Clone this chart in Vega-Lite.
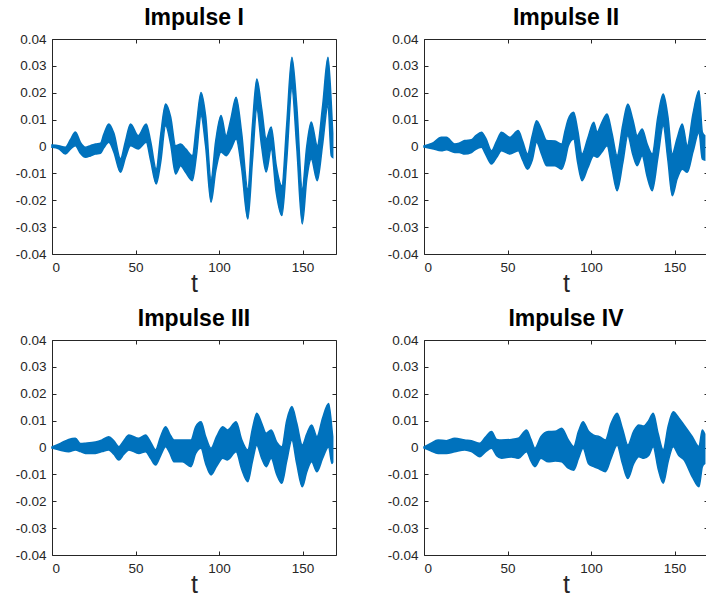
{
  "$schema": "https://vega.github.io/schema/vega-lite/v6.json",
  "padding": {"left": 15, "top": 7, "right": 0, "bottom": 0},
  "background": "white",
  "config": {
    "view": {"stroke": null},
    "font": "Liberation Sans",
    "title": {"font": "Liberation Sans", "fontSize": 23, "fontWeight": "bold", "color": "#000000", "offset": 2},
    "axis": {"grid": false, "domainColor": "#262626", "tickColor": "#262626", "labelColor": "#262626", "labelFont": "Liberation Sans", "labelFontSize": 13.5, "tickSize": -4, "labelPadding": 10, "domainWidth": 1, "tickWidth": 1, "titleFont": "Liberation Sans", "titleFontSize": 25, "titleFontWeight": "normal", "titleColor": "#262626", "titlePadding": -2}
  },
  "datasets": {
    "p1": [
      {"t": 0, "lo": -0.0003, "hi": 0.0005}, {"t": 4, "lo": -0.0008, "hi": 0.0003}, {"t": 8, "lo": -0.0028, "hi": -0.0003},
      {"t": 11, "lo": -0.001, "hi": 0.0025}, {"t": 14, "lo": 0.0003, "hi": 0.0054}, {"t": 17, "lo": -0.0025, "hi": 0.0015},
      {"t": 20, "lo": -0.004, "hi": -0.0003}, {"t": 23, "lo": -0.0035, "hi": 0.0003}, {"t": 26, "lo": -0.0028, "hi": 0.0009},
      {"t": 29, "lo": -0.0025, "hi": 0.0012}, {"t": 31, "lo": -0.0005, "hi": 0.0045}, {"t": 34, "lo": 0.0016, "hi": 0.0084},
      {"t": 37, "lo": -0.002, "hi": 0.005}, {"t": 41, "lo": -0.0096, "hi": -0.0046}, {"t": 44, "lo": -0.004, "hi": 0.002},
      {"t": 47, "lo": 0.0003, "hi": 0.0084}, {"t": 51.6, "lo": -0.0009, "hi": 0.004}, {"t": 56.4, "lo": 0.0016, "hi": 0.0084},
      {"t": 59, "lo": -0.005, "hi": 0.002}, {"t": 62.4, "lo": -0.0139, "hi": -0.0084}, {"t": 65, "lo": -0.006, "hi": 0.004},
      {"t": 68, "lo": 0.0077, "hi": 0.0158}, {"t": 71, "lo": 0.001, "hi": 0.011}, {"t": 74, "lo": -0.0102, "hi": 0.0003},
      {"t": 77, "lo": -0.0071, "hi": 0.0009}, {"t": 80, "lo": -0.0096, "hi": -0.0009}, {"t": 84, "lo": -0.0127, "hi": -0.0034},
      {"t": 86.5, "lo": -0.003, "hi": 0.008}, {"t": 89.2, "lo": 0.0115, "hi": 0.0201}, {"t": 92, "lo": 0.0, "hi": 0.011},
      {"t": 95.2, "lo": -0.0207, "hi": -0.0121}, {"t": 98, "lo": -0.009, "hi": 0.002}, {"t": 101.2, "lo": -0.002, "hi": 0.0115},
      {"t": 104.2, "lo": -0.0034, "hi": 0.004}, {"t": 107, "lo": -0.001, "hi": 0.01}, {"t": 110.2, "lo": 0.0028, "hi": 0.0183},
      {"t": 113.5, "lo": -0.008, "hi": 0.005}, {"t": 117.2, "lo": -0.027, "hi": -0.0158}, {"t": 120, "lo": -0.005, "hi": 0.008},
      {"t": 122.6, "lo": 0.0139, "hi": 0.0251}, {"t": 125.5, "lo": 0.0, "hi": 0.014}, {"t": 128.2, "lo": -0.0095, "hi": 0.0028},
      {"t": 131.2, "lo": -0.0009, "hi": 0.0072}, {"t": 134.2, "lo": -0.017, "hi": -0.0071}, {"t": 137.6, "lo": -0.0257, "hi": -0.0146},
      {"t": 140.5, "lo": -0.005, "hi": 0.008}, {"t": 143.6, "lo": 0.0214, "hi": 0.0332}, {"t": 146.5, "lo": 0.0, "hi": 0.015},
      {"t": 149.8, "lo": -0.0288, "hi": -0.0158}, {"t": 152.5, "lo": -0.012, "hi": 0.0}, {"t": 155.2, "lo": -0.0046, "hi": 0.0091},
      {"t": 158.8, "lo": -0.0127, "hi": 0.0003}, {"t": 162, "lo": 0.001, "hi": 0.015}, {"t": 165.2, "lo": 0.0154, "hi": 0.0332},
      {"t": 167.2, "lo": -0.0034, "hi": 0.0154}, {"t": 168, "lo": -0.004, "hi": 0.005}
    ],
    "p2": [
      {"t": 0, "lo": -0.0002, "hi": 0.0002}, {"t": 5, "lo": -0.0008, "hi": 0.0012}, {"t": 10.4, "lo": -0.0016, "hi": 0.0034},
      {"t": 13.4, "lo": -0.0012, "hi": 0.0034}, {"t": 18.4, "lo": -0.0022, "hi": 0.0009}, {"t": 21, "lo": -0.0022, "hi": 0.0012},
      {"t": 24.4, "lo": -0.0028, "hi": 0.0022}, {"t": 28.4, "lo": -0.0022, "hi": 0.0025}, {"t": 31, "lo": -0.001, "hi": 0.004},
      {"t": 34.4, "lo": -0.0003, "hi": 0.0053}, {"t": 37, "lo": -0.003, "hi": 0.003}, {"t": 40.4, "lo": -0.0065, "hi": -0.0016},
      {"t": 43.5, "lo": -0.004, "hi": 0.002}, {"t": 46.4, "lo": -0.0016, "hi": 0.0053}, {"t": 51.4, "lo": -0.0028, "hi": 0.0034},
      {"t": 56.4, "lo": -0.0016, "hi": 0.0059}, {"t": 59, "lo": -0.005, "hi": 0.002}, {"t": 62, "lo": -0.0084, "hi": -0.0028},
      {"t": 64.8, "lo": -0.005, "hi": 0.004}, {"t": 67.4, "lo": 0.0016, "hi": 0.0096}, {"t": 70.5, "lo": -0.003, "hi": 0.006},
      {"t": 73.4, "lo": -0.0071, "hi": 0.0022}, {"t": 78.4, "lo": -0.0071, "hi": 0.002}, {"t": 82.4, "lo": -0.0084, "hi": 0.0009},
      {"t": 84.5, "lo": -0.005, "hi": 0.006}, {"t": 86.4, "lo": 0.0003, "hi": 0.0102}, {"t": 89.6, "lo": 0.0028, "hi": 0.0127},
      {"t": 92, "lo": -0.006, "hi": 0.006}, {"t": 94.6, "lo": -0.0127, "hi": -0.0028}, {"t": 98, "lo": -0.008, "hi": 0.003},
      {"t": 101.6, "lo": -0.0034, "hi": 0.009}, {"t": 103.6, "lo": -0.004, "hi": 0.0053}, {"t": 106.5, "lo": -0.002, "hi": 0.009},
      {"t": 109.6, "lo": 0.0003, "hi": 0.0121}, {"t": 112.5, "lo": -0.008, "hi": 0.005}, {"t": 115.6, "lo": -0.0164, "hi": -0.0034},
      {"t": 119, "lo": -0.006, "hi": 0.008}, {"t": 122, "lo": 0.004, "hi": 0.0158}, {"t": 125, "lo": -0.003, "hi": 0.01},
      {"t": 127.6, "lo": -0.0071, "hi": 0.004}, {"t": 130.6, "lo": -0.0034, "hi": 0.0065}, {"t": 133.5, "lo": -0.011, "hi": 0.001},
      {"t": 136.6, "lo": -0.0164, "hi": -0.0028}, {"t": 140, "lo": -0.004, "hi": 0.011}, {"t": 143.2, "lo": 0.0077, "hi": 0.0195},
      {"t": 146, "lo": -0.005, "hi": 0.011}, {"t": 148.6, "lo": -0.0183, "hi": -0.0028}, {"t": 151.5, "lo": -0.012, "hi": 0.003},
      {"t": 154.6, "lo": -0.0084, "hi": 0.0084}, {"t": 157.6, "lo": -0.0096, "hi": 0.0003}, {"t": 161, "lo": -0.002, "hi": 0.012},
      {"t": 164.6, "lo": 0.0053, "hi": 0.0207}, {"t": 166.6, "lo": -0.0046, "hi": 0.0053}, {"t": 168, "lo": -0.005, "hi": 0.004}
    ],
    "p3": [
      {"t": 0, "lo": -0.0002, "hi": 0.0002}, {"t": 5, "lo": -0.001, "hi": 0.0015}, {"t": 10, "lo": -0.0016, "hi": 0.003},
      {"t": 14, "lo": -0.0009, "hi": 0.0034}, {"t": 17, "lo": -0.0015, "hi": 0.0015}, {"t": 20, "lo": -0.0022, "hi": 0.0016},
      {"t": 26, "lo": -0.0022, "hi": 0.002}, {"t": 30, "lo": -0.0015, "hi": 0.0028}, {"t": 34, "lo": -0.0009, "hi": 0.004},
      {"t": 37, "lo": -0.0025, "hi": 0.0025}, {"t": 40, "lo": -0.0046, "hi": 0.0003}, {"t": 43, "lo": -0.0025, "hi": 0.0025},
      {"t": 46, "lo": -0.0009, "hi": 0.0046}, {"t": 52, "lo": -0.0022, "hi": 0.0034}, {"t": 56, "lo": -0.0016, "hi": 0.0046},
      {"t": 59, "lo": -0.004, "hi": 0.002}, {"t": 62, "lo": -0.0065, "hi": -0.0009}, {"t": 65, "lo": -0.003, "hi": 0.004},
      {"t": 68, "lo": 0.0003, "hi": 0.0077}, {"t": 70.5, "lo": -0.002, "hi": 0.005}, {"t": 73, "lo": -0.0053, "hi": 0.0028},
      {"t": 78, "lo": -0.0053, "hi": 0.0028}, {"t": 83.2, "lo": -0.0071, "hi": 0.0028}, {"t": 86, "lo": -0.0022, "hi": 0.0077},
      {"t": 89.2, "lo": -0.0003, "hi": 0.0096}, {"t": 92, "lo": -0.006, "hi": 0.004}, {"t": 95.2, "lo": -0.0102, "hi": -0.0003},
      {"t": 98.5, "lo": -0.007, "hi": 0.004}, {"t": 102.2, "lo": -0.004, "hi": 0.0077}, {"t": 105, "lo": -0.0046, "hi": 0.0065},
      {"t": 110.2, "lo": -0.0016, "hi": 0.0096}, {"t": 113.5, "lo": -0.008, "hi": 0.003}, {"t": 117.2, "lo": -0.0127, "hi": -0.0009},
      {"t": 120, "lo": -0.005, "hi": 0.007}, {"t": 122.6, "lo": 0.0009, "hi": 0.0127}, {"t": 125.5, "lo": -0.004, "hi": 0.009},
      {"t": 128.2, "lo": -0.0071, "hi": 0.0053}, {"t": 131.2, "lo": -0.004, "hi": 0.0065}, {"t": 134.5, "lo": -0.01, "hi": 0.002},
      {"t": 137.6, "lo": -0.0133, "hi": 0.0003}, {"t": 140.5, "lo": -0.005, "hi": 0.01}, {"t": 143.6, "lo": 0.0028, "hi": 0.0152},
      {"t": 146.5, "lo": -0.006, "hi": 0.009}, {"t": 149.8, "lo": -0.0146, "hi": 0.0009}, {"t": 152.5, "lo": -0.009, "hi": 0.005},
      {"t": 155.4, "lo": -0.0053, "hi": 0.0084}, {"t": 158.6, "lo": -0.009, "hi": 0.004}, {"t": 162, "lo": -0.004, "hi": 0.011},
      {"t": 165.6, "lo": 0.0003, "hi": 0.0164}, {"t": 167.6, "lo": -0.0059, "hi": 0.0065}, {"t": 168, "lo": -0.0055, "hi": 0.004}
    ],
    "p4": [
      {"t": 0, "lo": -0.0002, "hi": 0.0002}, {"t": 4, "lo": -0.0012, "hi": 0.0015}, {"t": 8.4, "lo": -0.0022, "hi": 0.0028},
      {"t": 13.4, "lo": -0.0022, "hi": 0.0025}, {"t": 18.4, "lo": -0.0016, "hi": 0.0034}, {"t": 24.4, "lo": -0.0009, "hi": 0.0028},
      {"t": 28.4, "lo": -0.0015, "hi": 0.0025}, {"t": 33.4, "lo": -0.0034, "hi": 0.0016}, {"t": 37, "lo": -0.0015, "hi": 0.004},
      {"t": 40.4, "lo": -0.0003, "hi": 0.0059}, {"t": 43.5, "lo": -0.003, "hi": 0.003}, {"t": 46.4, "lo": -0.004, "hi": 0.0028},
      {"t": 52.4, "lo": -0.0035, "hi": 0.003}, {"t": 56.4, "lo": -0.004, "hi": 0.0034}, {"t": 61.4, "lo": -0.0016, "hi": 0.0065},
      {"t": 64, "lo": -0.005, "hi": 0.003}, {"t": 66.4, "lo": -0.0071, "hi": -0.0003}, {"t": 70, "lo": -0.004, "hi": 0.004},
      {"t": 74.4, "lo": -0.0053, "hi": 0.0059}, {"t": 78.5, "lo": -0.005, "hi": 0.006}, {"t": 82.4, "lo": -0.0053, "hi": 0.0071},
      {"t": 86.4, "lo": -0.0077, "hi": 0.0028}, {"t": 89.6, "lo": -0.0084, "hi": 0.0003}, {"t": 92.5, "lo": -0.004, "hi": 0.006},
      {"t": 95.2, "lo": -0.0003, "hi": 0.0096}, {"t": 98.5, "lo": -0.006, "hi": 0.006}, {"t": 101.6, "lo": -0.0071, "hi": 0.0046},
      {"t": 105, "lo": -0.008, "hi": 0.004}, {"t": 108.6, "lo": -0.009, "hi": 0.0028}, {"t": 112, "lo": -0.004, "hi": 0.009},
      {"t": 115.6, "lo": 0.0009, "hi": 0.0127}, {"t": 118.8, "lo": -0.006, "hi": 0.007}, {"t": 122, "lo": -0.0115, "hi": 0.0009},
      {"t": 125.5, "lo": -0.006, "hi": 0.006}, {"t": 128.6, "lo": -0.0034, "hi": 0.0084}, {"t": 131.6, "lo": -0.004, "hi": 0.008},
      {"t": 134.5, "lo": -0.003, "hi": 0.01}, {"t": 137.2, "lo": 0.0003, "hi": 0.0127}, {"t": 140.2, "lo": -0.008, "hi": 0.005},
      {"t": 143.2, "lo": -0.0133, "hi": -0.0009}, {"t": 146.2, "lo": -0.005, "hi": 0.008}, {"t": 149.2, "lo": 0.0003, "hi": 0.0133},
      {"t": 152.5, "lo": -0.003, "hi": 0.011}, {"t": 155.6, "lo": -0.0046, "hi": 0.0084}, {"t": 160.6, "lo": -0.0109, "hi": 0.004},
      {"t": 164.6, "lo": -0.0146, "hi": 0.0003}, {"t": 166.6, "lo": -0.0071, "hi": 0.0065}, {"t": 168, "lo": -0.006, "hi": 0.005}
    ]
  },
  "spacing": 11,
  "vconcat": [
    {
      "spacing": 50,
      "hconcat": [
        {
          "title": "Impulse I", "width": 284, "height": 215,
          "resolve": {"axis": {"x": "independent", "y": "independent"}},
          "layer": [
            {"data": {"name": "p1"}, "mark": {"type": "area", "interpolate": "monotone", "color": "#0072BD", "stroke": "#0072BD", "strokeWidth": 1.6},
             "encoding": {
               "x": {"field": "t", "type": "quantitative", "scale": {"domain": [0, 170], "nice": false, "zero": false}, "axis": {"orient": "bottom", "values": [0, 50, 100, 150], "title": "t"}},
               "y": {"field": "lo", "type": "quantitative", "scale": {"domain": [-0.04, 0.04], "nice": false}, "axis": {"orient": "left", "title": null, "values": [-0.04, -0.03, -0.02, -0.01, 0, 0.01, 0.02, 0.03, 0.04], "labelExpr": "abs(datum.value) < 1e-9 ? '0' : (datum.value < 0 ? '-' : '') + format(abs(datum.value), '.2f')"}},
               "y2": {"field": "hi"}}},
            {"data": {"name": "p1"}, "mark": {"type": "point", "opacity": 0},
             "encoding": {
               "x": {"field": "t", "type": "quantitative", "axis": {"orient": "top", "values": [0, 50, 100, 150], "labels": false, "title": null}},
               "y": {"field": "lo", "type": "quantitative", "axis": {"orient": "right", "labels": false, "title": null, "values": [-0.04, -0.03, -0.02, -0.01, 0, 0.01, 0.02, 0.03, 0.04]}}}}
          ]
        },
        {
          "title": "Impulse II", "width": 284, "height": 215,
          "resolve": {"axis": {"x": "independent", "y": "independent"}},
          "layer": [
            {"data": {"name": "p2"}, "mark": {"type": "area", "interpolate": "monotone", "color": "#0072BD", "stroke": "#0072BD", "strokeWidth": 1.6},
             "encoding": {
               "x": {"field": "t", "type": "quantitative", "scale": {"domain": [0, 170], "nice": false, "zero": false}, "axis": {"orient": "bottom", "values": [0, 50, 100, 150], "title": "t"}},
               "y": {"field": "lo", "type": "quantitative", "scale": {"domain": [-0.04, 0.04], "nice": false}, "axis": {"orient": "left", "title": null, "values": [-0.04, -0.03, -0.02, -0.01, 0, 0.01, 0.02, 0.03, 0.04], "labelExpr": "abs(datum.value) < 1e-9 ? '0' : (datum.value < 0 ? '-' : '') + format(abs(datum.value), '.2f')"}},
               "y2": {"field": "hi"}}},
            {"data": {"name": "p2"}, "mark": {"type": "point", "opacity": 0},
             "encoding": {
               "x": {"field": "t", "type": "quantitative", "axis": {"orient": "top", "values": [0, 50, 100, 150], "labels": false, "title": null}},
               "y": {"field": "lo", "type": "quantitative", "axis": {"orient": "right", "labels": false, "title": null, "values": [-0.04, -0.03, -0.02, -0.01, 0, 0.01, 0.02, 0.03, 0.04]}}}}
          ]
        }
      ]
    },
    {
      "spacing": 50,
      "hconcat": [
        {
          "title": "Impulse III", "width": 284, "height": 215,
          "resolve": {"axis": {"x": "independent", "y": "independent"}},
          "layer": [
            {"data": {"name": "p3"}, "mark": {"type": "area", "interpolate": "monotone", "color": "#0072BD", "stroke": "#0072BD", "strokeWidth": 1.6},
             "encoding": {
               "x": {"field": "t", "type": "quantitative", "scale": {"domain": [0, 170], "nice": false, "zero": false}, "axis": {"orient": "bottom", "values": [0, 50, 100, 150], "title": "t"}},
               "y": {"field": "lo", "type": "quantitative", "scale": {"domain": [-0.04, 0.04], "nice": false}, "axis": {"orient": "left", "title": null, "values": [-0.04, -0.03, -0.02, -0.01, 0, 0.01, 0.02, 0.03, 0.04], "labelExpr": "abs(datum.value) < 1e-9 ? '0' : (datum.value < 0 ? '-' : '') + format(abs(datum.value), '.2f')"}},
               "y2": {"field": "hi"}}},
            {"data": {"name": "p3"}, "mark": {"type": "point", "opacity": 0},
             "encoding": {
               "x": {"field": "t", "type": "quantitative", "axis": {"orient": "top", "values": [0, 50, 100, 150], "labels": false, "title": null}},
               "y": {"field": "lo", "type": "quantitative", "axis": {"orient": "right", "labels": false, "title": null, "values": [-0.04, -0.03, -0.02, -0.01, 0, 0.01, 0.02, 0.03, 0.04]}}}}
          ]
        },
        {
          "title": "Impulse IV", "width": 284, "height": 215,
          "resolve": {"axis": {"x": "independent", "y": "independent"}},
          "layer": [
            {"data": {"name": "p4"}, "mark": {"type": "area", "interpolate": "monotone", "color": "#0072BD", "stroke": "#0072BD", "strokeWidth": 1.6},
             "encoding": {
               "x": {"field": "t", "type": "quantitative", "scale": {"domain": [0, 170], "nice": false, "zero": false}, "axis": {"orient": "bottom", "values": [0, 50, 100, 150], "title": "t"}},
               "y": {"field": "lo", "type": "quantitative", "scale": {"domain": [-0.04, 0.04], "nice": false}, "axis": {"orient": "left", "title": null, "values": [-0.04, -0.03, -0.02, -0.01, 0, 0.01, 0.02, 0.03, 0.04], "labelExpr": "abs(datum.value) < 1e-9 ? '0' : (datum.value < 0 ? '-' : '') + format(abs(datum.value), '.2f')"}},
               "y2": {"field": "hi"}}},
            {"data": {"name": "p4"}, "mark": {"type": "point", "opacity": 0},
             "encoding": {
               "x": {"field": "t", "type": "quantitative", "axis": {"orient": "top", "values": [0, 50, 100, 150], "labels": false, "title": null}},
               "y": {"field": "lo", "type": "quantitative", "axis": {"orient": "right", "labels": false, "title": null, "values": [-0.04, -0.03, -0.02, -0.01, 0, 0.01, 0.02, 0.03, 0.04]}}}}
          ]
        }
      ]
    }
  ]
}
